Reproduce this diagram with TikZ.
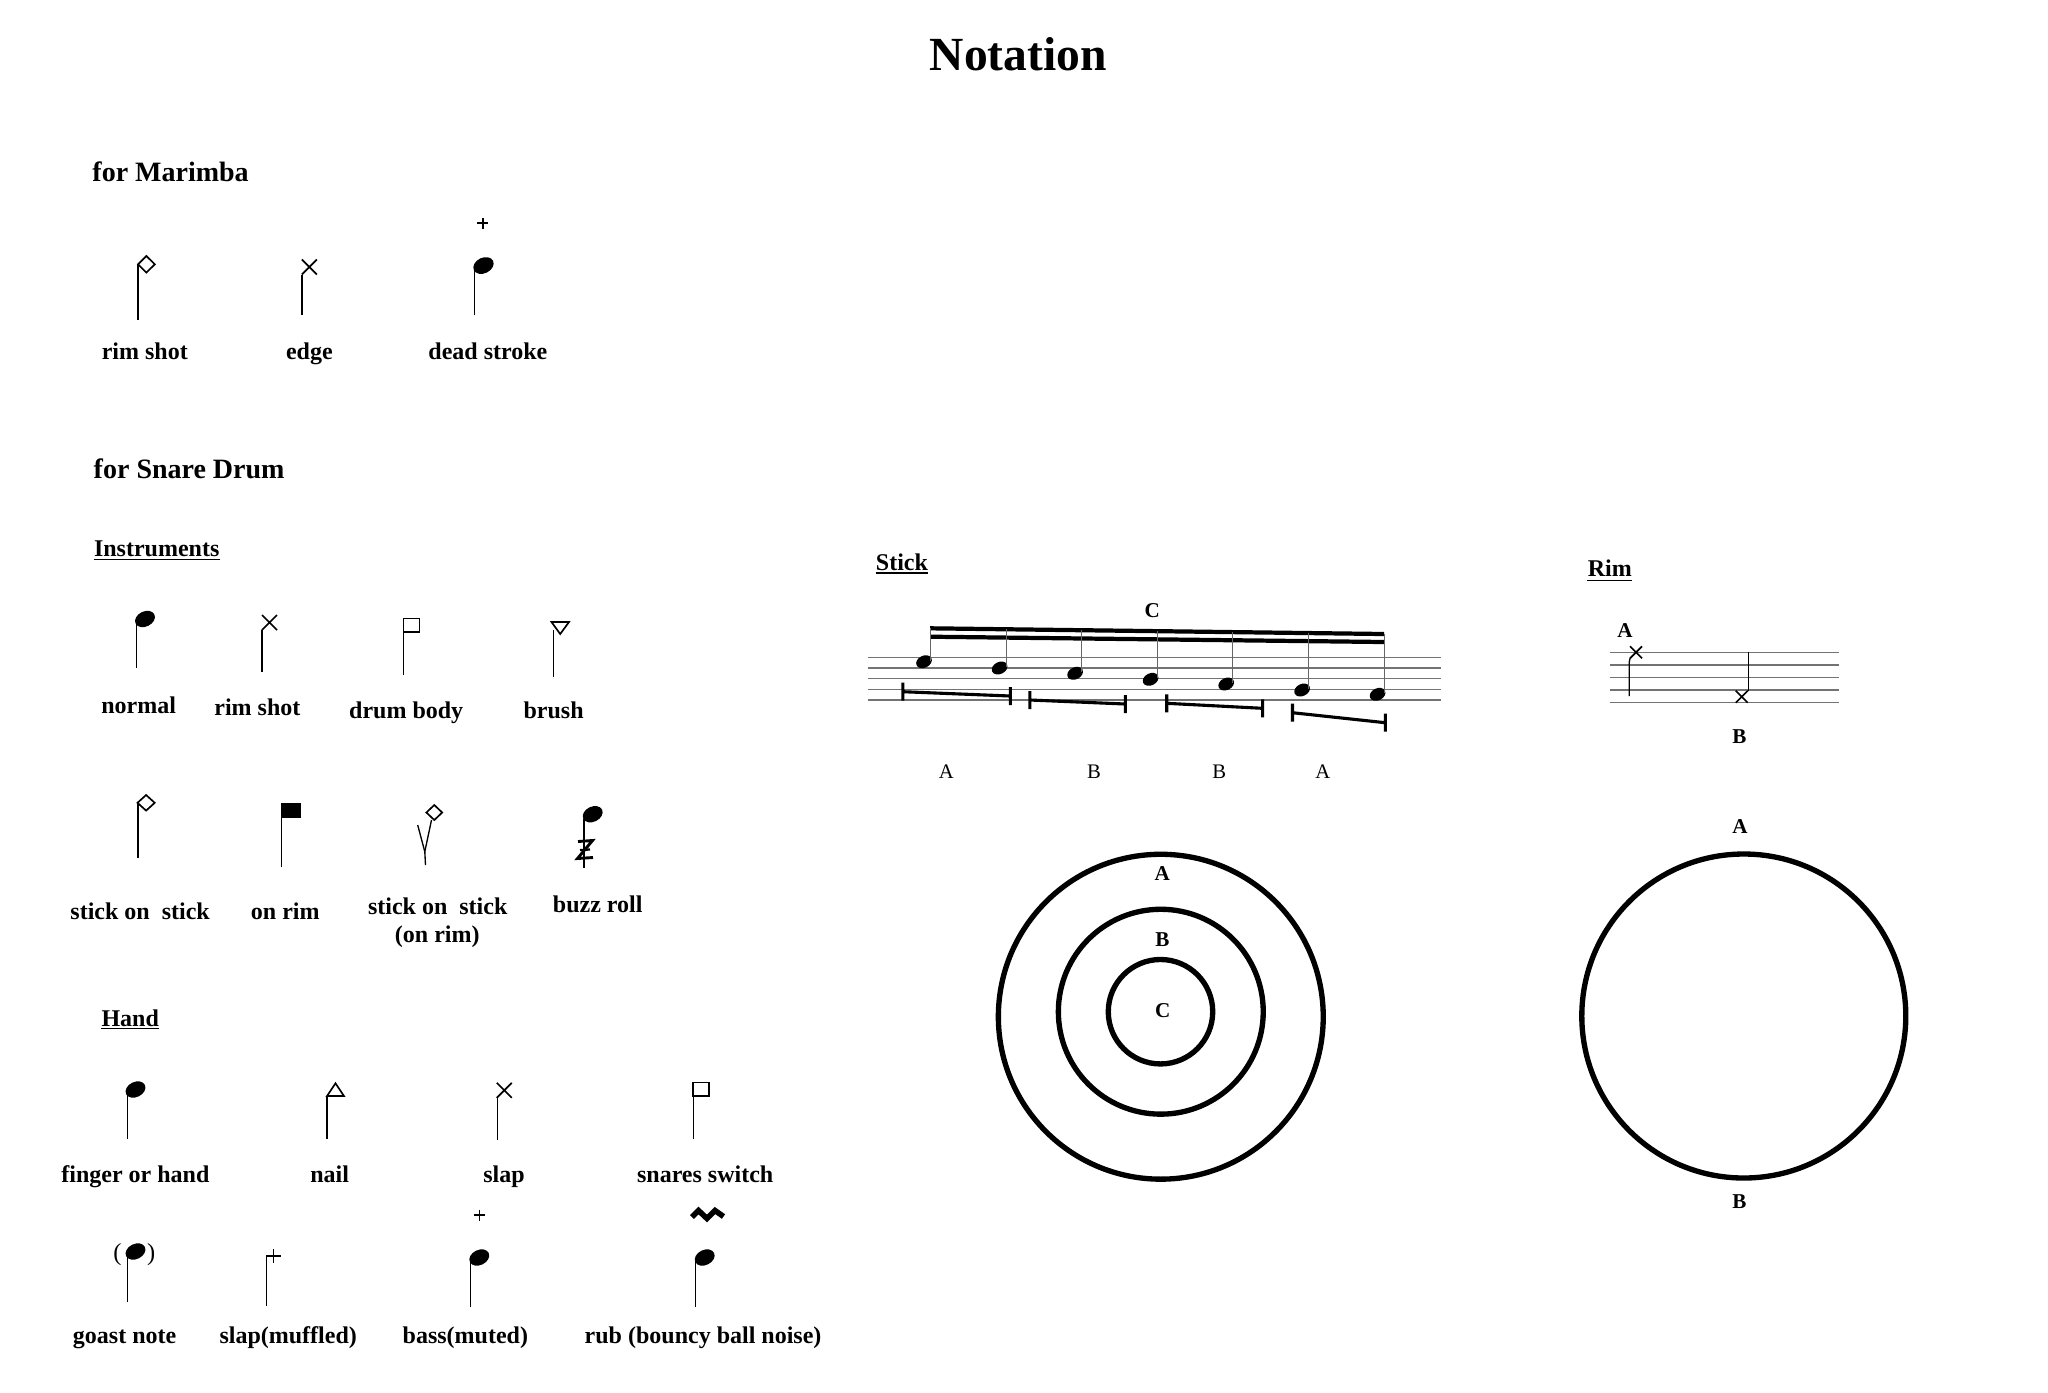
\documentclass[tikz,border=0pt]{standalone}
\usepackage{fontspec}
\setmainfont{Liberation Serif}
\newcommand\nhd[4]{\fill[rotate around={26:(#1,#2)}] (#1,#2) ellipse [x radius=#3pt, y radius=#4pt];}
\newcommand\xm[3]{\draw[sym] ({#1-#3},{#2-#3}) -- ({#1+#3},{#2+#3}) ({#1-#3},{#2+#3}) -- ({#1+#3},{#2-#3});}
\newcommand\plusm[4]{\draw[sym] ({#1-#3},#2) -- ({#1+#3},#2) (#1,{#2-#4}) -- (#1,{#2+#4});}
\newcommand\brkt[4]{\draw[brk] (#1,#2) -- (#3,#4) (#1,{#2-9}) -- (#1,{#2+9}) (#3,{#4-9}) -- (#3,{#4+9});}
\tikzset{
 lab/.style={font=\fontsize{10.8}{13}\selectfont\bfseries, anchor=base, inner sep=0pt},
 hd/.style={font=\fontsize{12.6}{15}\selectfont\bfseries, anchor=base west, inner sep=0pt},
 sub/.style={font=\fontsize{10.8}{13}\selectfont\bfseries, anchor=base west, inner sep=0pt},
 sm/.style={font=\fontsize{9.5}{11}\selectfont\bfseries, anchor=base, inner sep=0pt},
 smr/.style={font=\fontsize{9.3}{11}\selectfont, anchor=base, inner sep=0pt},
 par/.style={font=\fontsize{11}{13}\selectfont, anchor=base, inner sep=0pt},
 stem/.style={line width=0.6pt},
 stemg/.style={line width=0.5pt, black!60},
 sym/.style={line width=0.75pt},
 staff/.style={line width=0.65pt, black!55},
 ring/.style={line width=2.4pt},
 brk/.style={line width=1.4pt},
 beam/.style={line width=1.9pt},
 uline/.style={line width=0.6pt},
}
\begin{document}
\begin{tikzpicture}[x=0.45pt,y=-0.45pt]
\useasboundingbox (0,0) rectangle (2048,1392);
% title
\node[font=\fontsize{21.4}{25}\selectfont\bfseries, anchor=base, inner sep=0pt] (title) at (1018.3,70) {Notation};
% ---------------- Marimba
\node[hd] (marimba) at (92,181) {for Marimba};
\draw[stem] (138,320) -- (138,264.3);
\draw[sym] (138,264.3) -- (146.4,256) -- (154.8,264.3) -- (146.4,272.6) -- cycle;
\draw[stem] (301.9,315) -- (301.9,274.5);
\xm{309.4}{267}{7.5}
\draw[stem] (474.3,315) -- (474.3,270);
\nhd{483.5}{265.5}{4.8}{3.5}
\plusm{482.9}{223.3}{5.5}{5.5}
\node[lab] (m1) at (144.8,359) {rim shot};
\node[lab] (m2) at (309.4,359) {edge};
\node[lab] (m3) at (487.9,359) {dead stroke};
% ---------------- Snare
\node[hd] (snare) at (93.3,478) {for Snare Drum};
\node[sub] (inst) at (93.6,556.7) {Instruments};
\draw[uline] ([yshift=-1.3pt]inst.base west) -- ([yshift=-1.3pt]inst.base east);
% row 1
\nhd{145}{619}{4.7}{3.4}
\draw[stem] (136.4,623) -- (136.4,668.3);
\xm{269.5}{622.5}{7.5}
\draw[stem] (262,630) -- (262,671.7);
\draw[sym] (403.5,618.5) rectangle (419.5,632);
\draw[stem] (403.8,632) -- (403.8,675);
\draw[sym] (551.5,622) -- (569,622) -- (560.2,634) -- cycle;
\draw[stem] (553.2,630) -- (553.2,677.3);
\node[lab] (s1) at (138.7,713.5) {normal};
\node[lab] (s2) at (257.4,715.5) {rim shot};
\node[lab] (s3) at (406.2,718) {drum body};
\node[lab] (s4) at (553.6,718) {brush};
% row 2
\draw[sym] (137.5,802.8) -- (146.1,795) -- (154.7,802.8) -- (146.1,810.6) -- cycle;
\draw[stem] (138,803) -- (138,858);
\fill (280.6,803.3) rectangle (300.8,818.3);
\draw[stem] (281.8,818) -- (281.8,866.7);
\draw[sym] (426.4,812.5) -- (434.3,805) -- (442.2,812.5) -- (434.3,820) -- cycle;
\draw[stem] (431.5,820) -- (424.8,851.7) -- (425.5,865);
\draw[stem] (417.7,825) -- (424.8,851.7);
\nhd{592.7}{814.2}{4.7}{3.4}
\draw[stem] (584,819) -- (584,868);
\draw[line width=1.3pt, line join=miter] (578,841.5) -- (592.5,840.5) -- (577.5,858.5) -- (593,857.5);
\draw[line width=1pt] (580,850) -- (590,849.5);
\node[lab] (s5) at (140.1,919) {stick on\ \ stick};
\node[lab] (s6) at (285.3,919) {on rim};
\node[lab] (s7) at (437.7,914) {stick on\ \ stick};
\node[lab] (s7b) at (437.3,942.5) {(on rim)};
\node[lab] (s8) at (597.7,912.5) {buzz roll};
% ---------------- Hand
\node[sub] (hand) at (101.1,1026) {Hand};
\draw[uline] ([yshift=-1.2pt]hand.base west) -- ([yshift=-1.2pt]hand.base east);
\nhd{135.5}{1089.5}{4.7}{3.4}
\draw[stem] (127.7,1093.5) -- (127.7,1139.3);
\draw[sym] (327,1096) -- (335.5,1083.3) -- (344,1096) -- cycle;
\draw[stem] (327.1,1096) -- (327.1,1139.3);
\xm{504.3}{1090.3}{7.5}
\draw[stem] (497.3,1097) -- (497.3,1140);
\draw[sym] (693.2,1082.5) rectangle (708.8,1096);
\draw[stem] (693.2,1096) -- (693.2,1139.3);
\node[lab] (h1) at (135.4,1182) {finger or hand};
\node[lab] (h2) at (329.7,1182) {nail};
\node[lab] (h3) at (504,1182) {slap};
\node[lab] (h4) at (705.2,1182) {snares switch};
% row 2
\plusm{479.4}{1215}{5.5}{5.5}
\draw[line width=2.5pt, line join=miter] (692,1217) -- (698.5,1210.5) -- (707,1218.5) -- (715,1210.5) -- (723.5,1216.5);
\nhd{135.5}{1251.5}{4.7}{3.4}
\node[par] (pl) at (117.5,1260.5) {(};
\node[par] (pr) at (151.2,1260.5) {)};
\draw[stem] (127.7,1255.5) -- (127.7,1301.7);
\draw[sym] (266.3,1256) -- (281.1,1256) (273.4,1249.3) -- (273.4,1262.7);
\draw[stem] (266.3,1256) -- (266.3,1306);
\nhd{479.3}{1257.5}{4.7}{3.4}
\draw[stem] (470.8,1261) -- (470.8,1306.7);
\nhd{704.7}{1257.5}{4.7}{3.4}
\draw[stem] (695.7,1261) -- (695.7,1306.7);
\node[lab] (h5) at (124.6,1343.5) {goast note};
\node[lab] (h6) at (288.2,1343.5) {slap(muffled)};
\node[lab] (h7) at (465.4,1343.5) {bass(muted)};
\node[lab] (h8) at (703.1,1343.5) {rub (bouncy ball noise)};
% ---------------- Stick
\node[sub] (stick) at (875.5,570) {Stick};
\draw[uline] ([yshift=-1.3pt]stick.base west) -- ([yshift=-1.3pt]stick.base east);
\node[sm] (sc) at (1152.2,617) {C};
\foreach \yy in {657.7,668,678.7,689.3,700} \draw[staff] (867.7,\yy) -- (1441,\yy);
\draw[beam] (930.2,628.3) -- (1384.2,634);
\draw[beam] (930.2,636.7) -- (1384.2,642);
\foreach \hx/\hy/\sx/\sy in {924/661.7/930.2/628.3, 999.6/668/1006.1/629.25, 1075.1/673.3/1081.6/630.2, 1150.6/679.3/1157.2/631.15, 1226.2/684/1232.7/632.1, 1302.1/690/1308.6/633.05, 1377.6/694.3/1384.2/634}{
  \nhd{\hx}{\hy}{3.7}{2.7}
  \draw[stemg] (\sx,\sy) -- (\sx,{\hy-1});
}
\brkt{902.9}{691.7}{1010.3}{696}
\brkt{1029.9}{700}{1125.3}{704}
\brkt{1166.7}{703.3}{1262.6}{708.3}
\brkt{1292.5}{712.7}{1385.3}{722.7}
\node[smr] (la1) at (946.3,778) {A};
\node[smr] (lb1) at (1093.9,778) {B};
\node[smr] (lb2) at (1219.3,778) {B};
\node[smr] (la2) at (1322.8,778) {A};
% ---------------- Rim
\node[sub] (rim) at (1587.3,576) {Rim};
\draw[uline] ([yshift=-2pt]rim.base west) -- ([yshift=-2pt]rim.base east);
\node[sm] (ra) at (1625,637.5) {A};
\foreach \yy in {652.3,665,677.3,690,702.7} \draw[staff] (1610,\yy) -- (1839,\yy);
\xm{1636}{652.3}{6}
\draw[stem] (1630,658.3) -- (1629.3,662) -- (1629.3,696);
\xm{1741.7}{696.7}{6}
\draw[stem] (1748.3,652.3) -- (1748.3,690.7);
\node[sm] (rb) at (1739.3,743.5) {B};
% ---------------- Circles
\draw[ring] (1160.8,1016.7) circle [radius=73.1pt];
\draw[ring] (1160.8,1011.7) circle [radius=46.1pt];
\draw[ring] (1160.5,1011.7) circle [radius=23.5pt];
\node[sm] (ca) at (1162.3,880) {A};
\node[sm] (cb) at (1162.3,946) {B};
\node[sm] (cc) at (1162.7,1017) {C};
\draw[ring] (1743.8,1016) circle [radius=72.9pt];
\node[sm] (da) at (1740,833.5) {A};
\node[sm] (db) at (1739.3,1208.5) {B};
\end{tikzpicture}
\end{document}
